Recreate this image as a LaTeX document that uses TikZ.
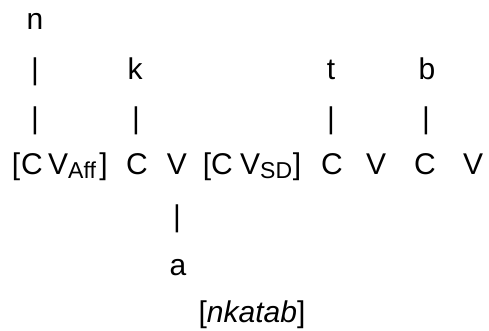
\documentclass[tikz,border=0pt]{standalone}
\usepackage{fontspec}
\setmainfont{Liberation Sans}
\tikzset{
	seg/.style={
		anchor=base,
		inner sep=0pt,
		font=\fontsize{30}{36}\selectfont},
	segw/.style={seg, anchor=base west},
	assoc/.style={seg},
	form/.style={seg, font=\fontsize{30}{36}\selectfont\itshape},
}
\newcommand{\subtxt}[1]{\raisebox{-3pt}{\fontsize{23}{23}\selectfont #1}}

\begin{document}
\begin{tikzpicture}[x=1pt,y=-1pt]
	\useasboundingbox (0,0) rectangle (489,331);
	% melody
	\node[seg] (mn) at (35,30) {n};
	\node[seg] (mk) at (135,80) {k};
	\node[seg] (mt) at (331,80) {t};
	\node[seg] (mb) at (427,80) {b};
	% association lines
	\node[assoc] (an1) at (35,80) {|};
	\node[assoc] (an2) at (35,129) {|};
	\node[assoc] (ak) at (136,129) {|};
	\node[assoc] (at) at (331,129) {|};
	\node[assoc] (ab) at (426,129) {|};
	% skeleton
	\node[seg] (lbA) at (16,175) {[};
	\node[seg] (cA) at (32,175) {C};
	\node[segw] (vA) at (48,175) {V\subtxt{Aff}};
	\node[seg] (rbA) at (103.5,175) {]};
	\node[seg] (cB) at (137,175) {C};
	\node[seg] (vB) at (177,175) {V};
	\node[seg] (lbC) at (207,175) {[};
	\node[seg] (cC) at (222,175) {C};
	\node[segw] (vC) at (240,175) {V\subtxt{SD}};
	\node[seg] (rbC) at (297,175) {]};
	\node[seg] (cD) at (332,175) {C};
	\node[seg] (vD) at (376,175) {V};
	\node[seg] (cE) at (425,175) {C};
	\node[seg] (vE) at (473,175) {V};
	% vowel
	\node[assoc] (aa) at (177,226) {|};
	\node[seg] (ma) at (178,275) {a};
	% surface form
	\node[seg] (out) at (252,322) {[\textit{nkatab}]};
\end{tikzpicture}
\end{document}
